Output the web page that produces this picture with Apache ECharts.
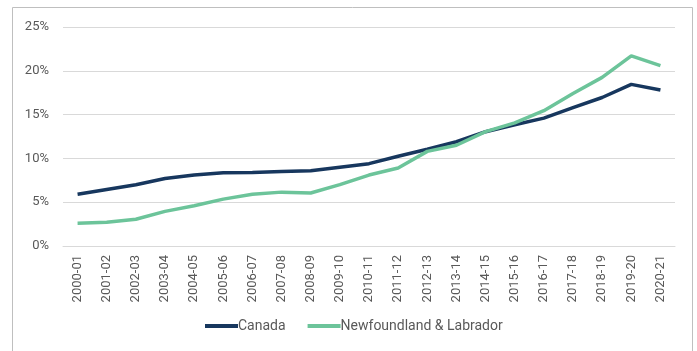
<!DOCTYPE html>
<html><head><meta charset="utf-8">
<script src="https://cdn.jsdelivr.net/npm/echarts@6/dist/echarts.min.js"></script>
<style>html,body{margin:0;padding:0;background:#fff}#c{width:697px;height:351px}</style>
</head><body><div id="c"></div>
<script>
const categories = ["2000-01","2001-02","2002-03","2003-04","2004-05","2005-06","2006-07","2007-08","2008-09","2009-10","2010-11","2011-12","2012-13","2013-14","2014-15","2015-16","2016-17","2017-18","2018-19","2019-20","2020-21"];
const canada = [5.9,6.45,7.0,7.7,8.1,8.35,8.4,8.5,8.6,9.0,9.4,10.25,11.05,11.9,13.05,13.85,14.6,15.8,16.95,18.45,17.8];
const newfoundland = [2.6,2.7,3.05,3.95,4.6,5.35,5.9,6.15,6.05,7.0,8.1,8.9,10.8,11.5,13.05,14.05,15.45,17.4,19.25,21.7,20.6];
const yTicks = [0,5,10,15,20,25];

const chart = echarts.init(document.getElementById('c'));
chart.setOption({
  animation:false,
  graphic:[{type:'rect',shape:{x:12.5,y:7.5,width:680,height:360},style:{fill:'none',stroke:'#BFBFBF',lineWidth:1},silent:true}],
  grid:{left:63,right:22,top:27,bottom:105},
  legend:{bottom:13,left:200,itemWidth:33,itemHeight:4,itemGap:22,icon:'rect',
    textStyle:{fontFamily:'Roboto',fontSize:14,color:'#595959',padding:[0,0,0,-5]},
    data:['Canada','Newfoundland & Labrador']},
  xAxis:{type:'category',data:categories,boundaryGap:true,
    axisLine:{lineStyle:{color:'#D9D9D9'}},axisTick:{show:false},
    axisLabel:{rotate:90,fontFamily:'Roboto',fontSize:13,color:'#595959',margin:9,interval:0}},
  yAxis:{type:'value',min:yTicks[0],max:yTicks[yTicks.length-1],interval:5,
    axisLine:{show:false},axisTick:{show:false},
    splitLine:{lineStyle:{color:'#D9D9D9'}},
    axisLabel:{formatter:'{value}%',fontFamily:'Roboto',fontSize:13,color:'#595959',margin:14}},
  series:[
    {name:'Canada',type:'line',data:canada,symbol:'none',lineStyle:{width:3.5,color:'#17375E'},itemStyle:{color:'#17375E'}},
    {name:'Newfoundland & Labrador',type:'line',data:newfoundland,symbol:'none',lineStyle:{width:3.5,color:'#6CC49A'},itemStyle:{color:'#6CC49A'}}
  ]
});
</script></body></html>
